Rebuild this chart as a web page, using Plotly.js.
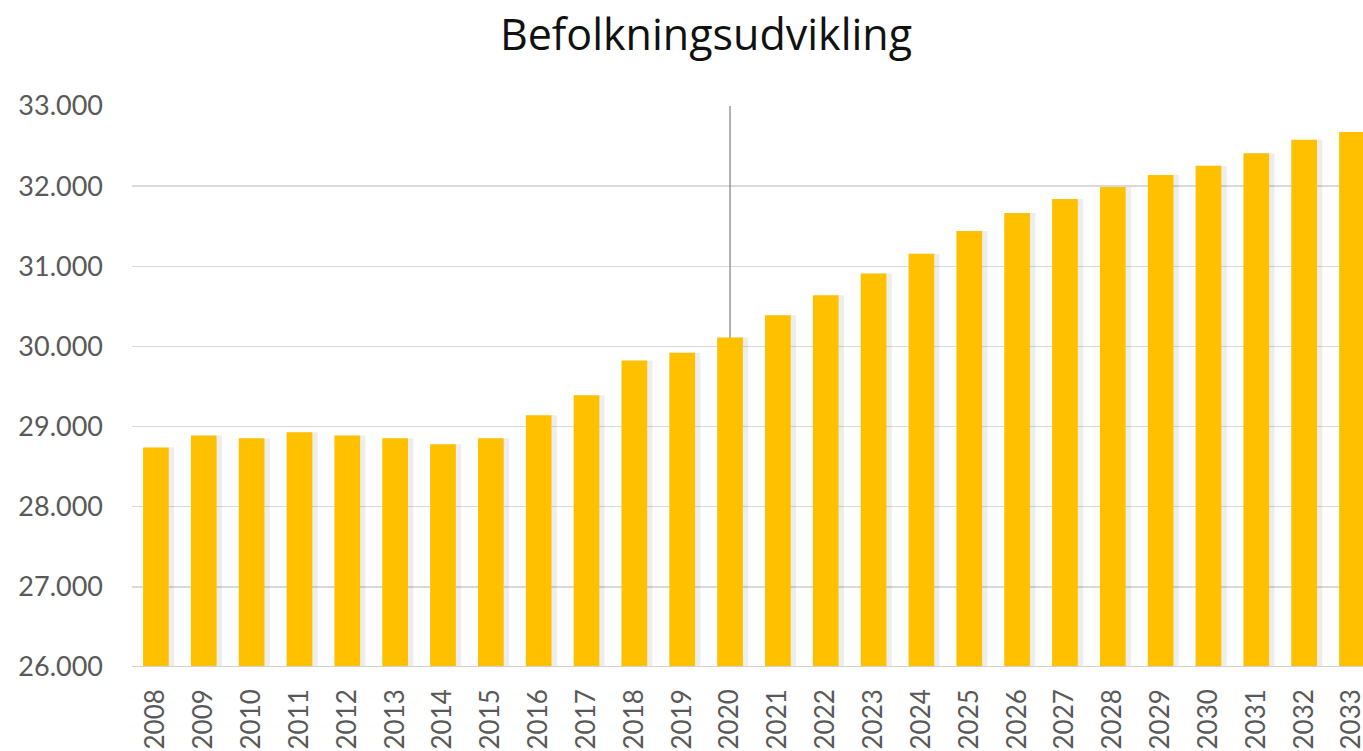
<!DOCTYPE html>
<html>
<head>
<meta charset="utf-8">
<script src="https://cdn.plot.ly/plotly-3.0.1.min.js"></script>
<style>html,body{margin:0;padding:0;background:#fff;}#chart{width:1363px;height:751px;}</style>
</head>
<body>
<div id="chart"></div>
<script>
const years = ['2008','2009','2010','2011','2012','2013','2014','2015','2016','2017','2018','2019','2020',
  '2021','2022','2023','2024','2025','2026','2027','2028','2029','2030','2031','2032','2033'];
const population = [28740, 28890, 28855, 28930, 28890, 28855, 28780, 28855, 29140, 29390, 29825, 29920, 30110,
  30390, 30640, 30910, 31155, 31440, 31665, 31840, 31990, 32140, 32255, 32410, 32580, 32675];
const markerYear = '2020';
const yTicks = [26000, 27000, 28000, 29000, 30000, 31000, 32000, 33000];
const title = 'Befolkningsudvikling';

const markerIdx = years.indexOf(markerYear);
const rel = population.map(v => v - 26000);

const shadow = {
  type: 'bar', x: years, y: rel, base: 26000,
  marker: {color: 'rgba(0,0,0,0.07)', line: {width: 0}},
  width: 0.62, offset: -0.24, hoverinfo: 'skip', showlegend: false
};
const bars = {
  type: 'bar', x: years, y: rel, base: 26000,
  marker: {color: '#FFC000', line: {width: 0}},
  width: 0.537, offset: -0.2685, showlegend: false
};
const marker = {
  type: 'scatter', mode: 'lines', x: [markerYear, markerYear], y: [population[markerIdx], 33000],
  line: {color: '#8a8a8a', width: 1.3}, hoverinfo: 'skip', showlegend: false, cliponaxis: false
};

const layout = {
  width: 1363, height: 751,
  margin: {l: 132, r: 0, t: 106, b: 84},
  paper_bgcolor: '#ffffff', plot_bgcolor: '#ffffff',
  separators: ',.',
  barmode: 'overlay',
  title: {text: title, font: {family: '"Open Sans", Lato, sans-serif', size: 43, color: '#111111'},
    xref: 'container', x: 706/1363, xanchor: 'center', yref: 'container', y: 1 - 35/751, yanchor: 'middle'},
  xaxis: {type: 'category', range: [-0.5, 25.23], tickangle: -90, showgrid: false, zeroline: false,
    showline: false, ticks: '', ticklabelstandoff: 16,
    tickfont: {family: 'Lato, "Open Sans", sans-serif', size: 26, color: '#595959'}, fixedrange: true},
  yaxis: {range: [26000, 33000], tickvals: yTicks, tickformat: ',d', showgrid: true, gridcolor: '#d9d9d9',
    gridwidth: 1.5, zeroline: false, showline: false, ticks: '', ticklabelstandoff: 28,
    tickfont: {family: 'Lato, "Open Sans", sans-serif', size: 27, color: '#595959'}, fixedrange: true},
  shapes: [
    {type: 'line', xref: 'paper', yref: 'y', x0: 0, x1: 1, y0: 26000, y1: 26000, layer: 'above',
     line: {color: '#d0d0d0', width: 2}}
  ]
};
Plotly.newPlot('chart', [shadow, bars, marker], layout, {displayModeBar: false, staticPlot: true});
</script>
</body>
</html>
